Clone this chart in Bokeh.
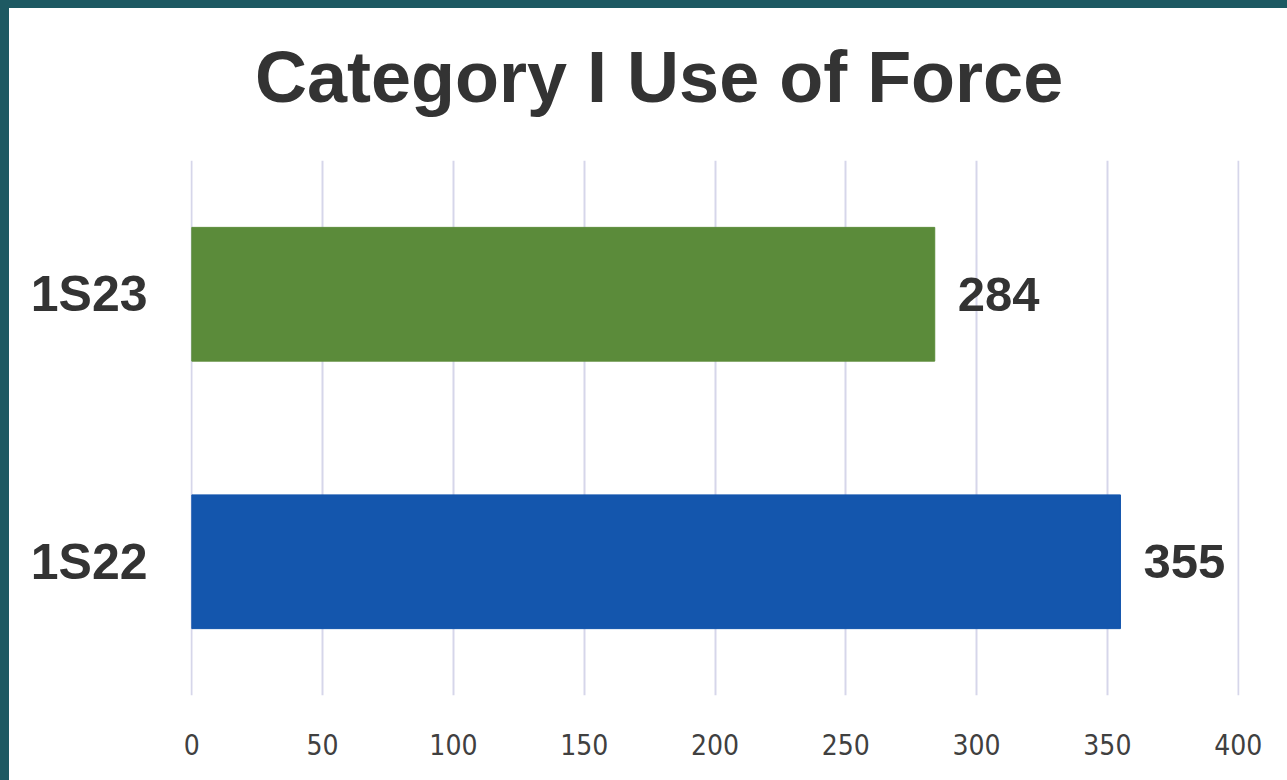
from bokeh.plotting import figure
from bokeh.models import ColumnDataSource, Range1d, FactorRange, Column, Div
from bokeh.core.properties import value
from bokeh.embed import file_html
from bokeh.resources import INLINE

title = "Category I Use of Force"
categories = ["1S22", "1S23"]
counts = [355, 284]
bar_colors = ["#1456ad", "#5b8b3a"]
x_ticks = [0, 50, 100, 150, 200, 250, 300, 350, 400]

src = ColumnDataSource(dict(cat=categories, val=counts, color=bar_colors,
                            lab=[str(v) for v in counts]))

head = Div(text=('<div style="font-family:\'Liberation Sans\';font-weight:bold;font-size:72px;'
                 'line-height:72px;color:#333333;padding-top:33px;padding-left:246px;'
                 'white-space:nowrap;">' + title + '</div>'),
           width=1278, height=152, margin=(8, 0, 0, 9),
           styles={"background-color": "white"})

p = figure(width=1278, height=620, output_backend="svg", toolbar_location=None, title=None,
           y_range=FactorRange(*categories, range_padding=0),
           x_range=Range1d(x_ticks[0] - 0.5, x_ticks[-1] + 0.5),
           min_border_left=181, min_border_right=48, min_border_top=0, min_border_bottom=85,
           outline_line_color=None)
p.margin = (0, 0, 0, 9)
p.styles = {"background-color": "white"}
p.background_fill_color = "white"
p.border_fill_color = "white"

p.hbar(y="cat", right="val", left=0, height=0.5, color="color", source=src)
p.text(x="val", y="cat", text="lab", source=src, x_offset=23, text_baseline="middle",
       text_align="left", text_font=value("Liberation Sans"), text_font_style="bold",
       text_font_size="49px", text_color="#333333")

p.xaxis.ticker = x_ticks
p.xaxis.axis_line_color = None
p.xaxis.major_tick_line_color = None
p.xaxis.minor_tick_line_color = None
p.xaxis.major_label_text_font = "DejaVu Sans Condensed"
p.xaxis.major_label_text_font_size = "28px"
p.xaxis.major_label_text_color = "#404040"
p.xaxis.major_label_standoff = 32

p.yaxis.axis_line_color = None
p.yaxis.major_tick_line_color = None
p.yaxis.major_label_text_font = "Liberation Sans"
p.yaxis.major_label_text_font_style = "bold"
p.yaxis.major_label_text_font_size = "50px"
p.yaxis.major_label_text_color = "#333333"
p.yaxis.major_label_standoff = 37

p.ygrid.grid_line_color = None
p.xgrid.grid_line_color = "#d6d6ea"
p.xgrid.grid_line_width = 2

layout = Column(head, p, width=1287, height=780, spacing=0,
                styles={"background-color": "#1d5962"})

open("out.html", "w").write(file_html(layout, INLINE))
